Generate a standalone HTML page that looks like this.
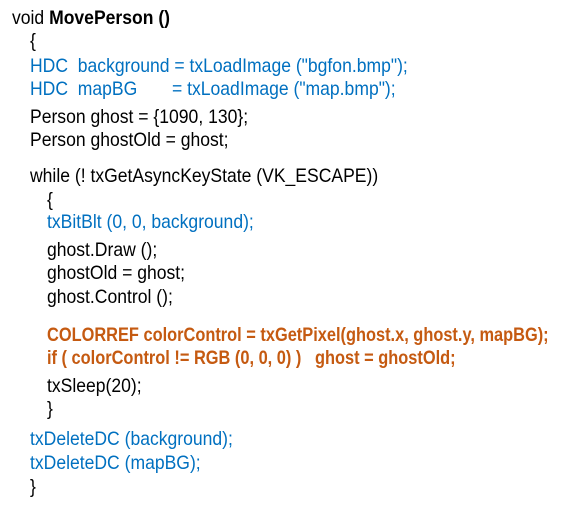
<!DOCTYPE html>
<html><head><meta charset="utf-8"><style>
html,body{margin:0;padding:0;background:#fff;}
body{width:566px;height:520px;position:relative;overflow:hidden;font-family:"Liberation Sans",Arial,sans-serif;font-size:19.5px;color:#000;}
.l{position:absolute;line-height:22px;white-space:pre;transform:scaleX(0.90);transform-origin:0 50%;}
.b{color:#0070c0}.o{color:#c55a11;font-weight:bold;transform:scaleX(0.84)}
</style></head><body>
<div class="l" style="left:12px;top:7px">void <b>MovePerson ()</b></div>
<div class="l" style="left:30px;top:30px">{</div>
<div class="l b" style="left:30px;top:55px">HDC  background = txLoadImage ("bgfon.bmp");</div>
<div class="l b" style="left:30px;top:78px">HDC  mapBG</div>
<div class="l b" style="left:172px;top:78px">= txLoadImage ("map.bmp");</div>
<div class="l" style="left:30px;top:106px">Person ghost = {1090, 130};</div>
<div class="l" style="left:30px;top:129px">Person ghostOld = ghost;</div>
<div class="l" style="left:30px;top:165px">while (! txGetAsyncKeyState (VK_ESCAPE))</div>
<div class="l" style="left:47px;top:189px">{</div>
<div class="l b" style="left:47px;top:211px">txBitBlt (0, 0, background);</div>
<div class="l" style="left:47px;top:239px">ghost.Draw ();</div>
<div class="l" style="left:47px;top:262px">ghostOld = ghost;</div>
<div class="l" style="left:47px;top:286px">ghost.Control ();</div>
<div class="l o" style="left:47px;top:324px">COLORREF colorControl = txGetPixel(ghost.x, ghost.y, mapBG);</div>
<div class="l o" style="left:47px;top:347px">if ( colorControl != RGB (0, 0, 0) )   ghost = ghostOld;</div>
<div class="l" style="left:47px;top:375px">txSleep(20);</div>
<div class="l" style="left:47px;top:398px">}</div>
<div class="l b" style="left:30px;top:428px">txDeleteDC (background);</div>
<div class="l b" style="left:30px;top:452px">txDeleteDC (mapBG);</div>
<div class="l" style="left:30px;top:476px">}</div>
</body></html>
